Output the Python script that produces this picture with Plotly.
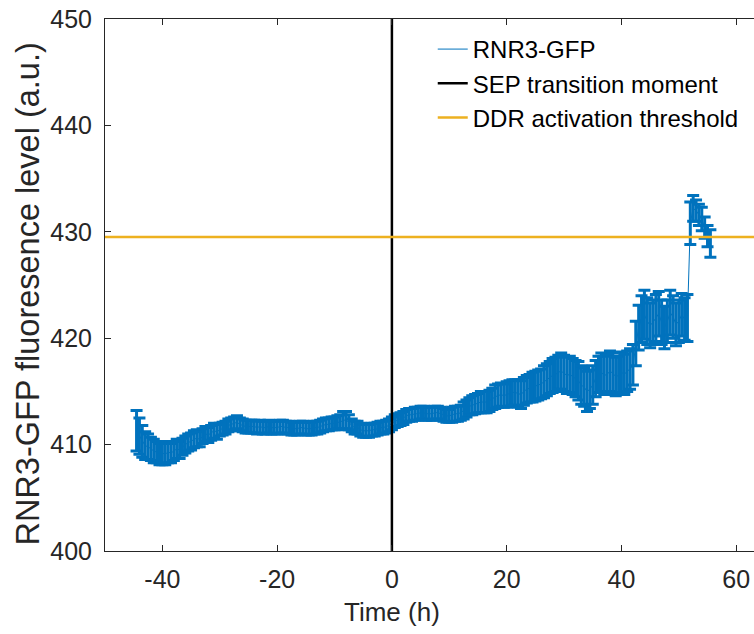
import plotly.graph_objects as go

# ---------------- data ----------------
time_h = [
    -44.5, -44.0, -43.5, -43.0, -42.5, -42.0, -41.5, -41.0, -40.5, -40.0,
    -39.5, -39.0, -38.5, -38.0, -37.5, -37.0, -36.5, -36.0, -35.5, -35.0,
    -34.5, -34.0, -33.5, -33.0, -32.5, -32.0, -31.5, -31.0, -30.5, -30.0,
    -29.5, -29.0, -28.5, -28.0, -27.5, -27.0, -26.5, -26.0, -25.5, -25.0,
    -24.5, -24.0, -23.5, -23.0, -22.5, -22.0, -21.5, -21.0, -20.5, -20.0,
    -19.5, -19.0, -18.5, -18.0, -17.5, -17.0, -16.5, -16.0, -15.5, -15.0,
    -14.5, -14.0, -13.5, -13.0, -12.5, -12.0, -11.5, -11.0, -10.5, -10.0,
    -9.5, -9.0, -8.5, -8.0, -7.5, -7.0, -6.5, -6.0, -5.5, -5.0,
    -4.5, -4.0, -3.5, -3.0, -2.5, -2.0, -1.5, -1.0, -0.5, 0.0,
    0.5, 1.0, 1.5, 2.0, 2.5, 3.0, 3.5, 4.0, 4.5, 5.0,
    5.5, 6.0, 6.5, 7.0, 7.5, 8.0, 8.5, 9.0, 9.5, 10.0,
    10.5, 11.0, 11.5, 12.0, 12.5, 13.0, 13.5, 14.0, 14.5, 15.0,
    15.5, 16.0, 16.5, 17.0, 17.5, 18.0, 18.5, 19.0, 19.5, 20.0,
    20.5, 21.0, 21.5, 22.0, 22.5, 23.0, 23.5, 24.0, 24.5, 25.0,
    25.5, 26.0, 26.5, 27.0, 27.5, 28.0, 28.5, 29.0, 29.5, 30.0,
    30.5, 31.0, 31.5, 32.0, 32.5, 33.0, 33.5, 34.0, 34.5, 35.0,
    35.5, 36.0, 36.5, 37.0, 37.5, 38.0, 38.5, 39.0, 39.5, 40.0,
    40.5, 41.0, 41.5, 42.0,
    42.5, 43.0, 43.5, 44.0, 44.5, 45.0, 45.5, 46.0, 46.5, 47.0,
    47.5, 48.0, 48.5, 49.0, 49.5, 50.0, 50.5, 51.0, 51.5,
    52.0, 52.5, 53.0, 53.5, 54.0, 54.5, 55.0, 55.5,
]

rnr3_mean = [
    411.3, 410.8, 410.3, 409.9, 409.8, 409.6, 409.4, 409.3, 409.1, 409.2,
    409.1, 409.3, 409.2, 409.4, 409.6, 409.5, 409.8, 410.0, 410.2, 410.3,
    410.5, 410.6, 410.5, 410.8, 411.0, 410.9, 411.1, 411.3, 411.2, 411.4,
    411.5, 411.6, 411.8, 411.9, 412.0, 412.1, 411.9, 411.8, 411.7, 411.7,
    411.7, 411.7, 411.6, 411.7, 411.6, 411.6, 411.7, 411.6, 411.6, 411.6,
    411.7, 411.7, 411.6, 411.6, 411.5, 411.5, 411.5, 411.6, 411.6, 411.5,
    411.5, 411.5, 411.6, 411.6, 411.7, 411.8, 411.9, 411.9, 412.0, 412.0,
    412.1, 412.1, 412.3, 412.3, 412.1, 411.8, 411.6, 411.6, 411.4, 411.3,
    411.3, 411.3, 411.4, 411.4, 411.5, 411.6, 411.6, 411.7, 411.8, 412.0,
    412.2, 412.3, 412.4, 412.5, 412.7, 412.8, 412.8, 412.9, 412.9, 413.0,
    413.0, 412.9, 412.9, 412.9, 413.0, 413.0, 412.9, 412.8, 412.7, 412.7,
    412.8, 412.9, 412.9, 413.0, 413.2, 413.4, 413.6, 413.7, 413.8, 413.9,
    414.0, 414.0, 414.0, 414.1, 414.3, 414.5, 414.6, 414.7, 414.6, 414.7,
    414.8, 414.9, 414.9, 414.8, 414.7, 415.0, 415.2, 415.3, 415.4, 415.5,
    415.6, 415.7, 415.9, 416.1, 416.3, 416.5, 416.6, 416.8, 416.9, 416.7,
    416.5, 416.6, 416.4, 416.2, 416.0, 415.6, 415.4, 415.0, 415.2, 415.6,
    416.2, 416.6, 416.8, 416.5, 416.6, 416.9, 416.7, 416.4, 416.5, 416.8,
    416.6, 416.9, 417.1, 417.5,
    419.5, 421.0, 421.8, 422.2, 421.6, 421.2, 421.5, 421.9, 422.3, 421.5,
    421.0, 421.6, 422.4, 422.0, 421.3, 421.6, 422.2, 421.8, 421.9,
    430.8, 432.2, 432.0, 431.6, 431.2, 430.4, 429.6, 428.9,
]

rnr3_err = [
    1.9, 1.7, 1.5, 1.3, 1.2, 1.1, 1.1, 1.0, 1.0, 1.1,
    1.0, 1.0, 0.9, 0.9, 0.9, 0.8, 0.8, 0.8, 0.8, 0.8,
    0.8, 0.8, 0.7, 0.7, 0.7, 0.7, 0.7, 0.7, 0.7, 0.6,
    0.6, 0.6, 0.6, 0.6, 0.6, 0.6, 0.6, 0.6, 0.6, 0.6,
    0.6, 0.6, 0.6, 0.6, 0.6, 0.6, 0.6, 0.6, 0.6, 0.6,
    0.6, 0.6, 0.6, 0.6, 0.6, 0.6, 0.6, 0.6, 0.6, 0.6,
    0.6, 0.6, 0.6, 0.6, 0.6, 0.6, 0.6, 0.6, 0.6, 0.6,
    0.6, 0.7, 0.8, 0.8, 0.7, 0.6, 0.6, 0.6, 0.6, 0.6,
    0.6, 0.6, 0.6, 0.6, 0.6, 0.6, 0.6, 0.6, 0.6, 0.6,
    0.6, 0.6, 0.6, 0.6, 0.6, 0.6, 0.6, 0.6, 0.6, 0.6,
    0.6, 0.6, 0.6, 0.6, 0.6, 0.6, 0.6, 0.6, 0.6, 0.6,
    0.7, 0.7, 0.7, 0.7, 0.8, 0.8, 0.8, 0.9, 0.9, 0.9,
    1.0, 1.0, 1.0, 1.0, 1.0, 1.1, 1.1, 1.1, 1.1, 1.2,
    1.2, 1.2, 1.2, 1.3, 1.3, 1.3, 1.3, 1.3, 1.4, 1.4,
    1.4, 1.4, 1.5, 1.5, 1.5, 1.6, 1.6, 1.6, 1.7, 1.7,
    1.7, 1.7, 1.7, 1.7, 1.8, 1.8, 1.8, 1.9, 1.8, 1.8,
    1.7, 1.7, 1.8, 1.8, 1.8, 1.9, 1.9, 1.8, 1.8, 1.9,
    1.9, 1.9, 1.9, 1.9,
    2.1, 2.1, 2.2, 2.3, 2.2, 2.1, 2.1, 2.2, 2.1, 2.1,
    2.0, 2.0, 2.1, 2.0, 2.0, 2.0, 2.0, 2.0, 2.2,
    2.0, 1.2, 1.0, 1.0, 1.1, 1.0, 1.0, 1.3,
]

sep_transition_time = 0.0          # h
ddr_threshold = 429.5              # a.u.

x_ticks = [-40, -20, 0, 20, 40, 60]
y_ticks = [400, 410, 420, 430, 440, 450]
x_range = [-50, 63.1]
y_range = [400, 450]

x_title = "Time (h)"
y_title = "RNR3-GFP fluoresence level (a.u.)"

# ---------------- styling ----------------
BLUE = "#0072BD"
ORANGE = "#EDB120"
AXIS = "#262626"
FONT = "Liberation Sans, Arial, Helvetica, sans-serif"

fig = go.Figure()

fig.add_trace(go.Scatter(
    x=time_h, y=rnr3_mean, mode="lines", name="RNR3-GFP",
    line=dict(color=BLUE, width=1),
    error_y=dict(type="data", array=rnr3_err, visible=True,
                 color=BLUE, thickness=3, width=6),
))

fig.add_trace(go.Scatter(
    x=[sep_transition_time, sep_transition_time], y=y_range,
    mode="lines", name="SEP transition moment",
    line=dict(color="black", width=2.5),
))

fig.add_trace(go.Scatter(
    x=[x_range[0], 70], y=[ddr_threshold, ddr_threshold],
    mode="lines", name="DDR activation threshold",
    line=dict(color=ORANGE, width=2.5),
))

fig.update_layout(
    width=754, height=634,
    margin=dict(l=105, r=0, t=19, b=83),
    paper_bgcolor="white", plot_bgcolor="white",
    font=dict(family=FONT, color=AXIS, size=25),
    showlegend=True,
    legend=dict(
        x=0.505, y=0.985, xanchor="left", yanchor="top",
        bgcolor="rgba(255,255,255,1)", borderwidth=0,
        font=dict(family=FONT, size=24, color="black"),
    ),
    annotations=[
        dict(text=x_title, xref="x", x=0, yref="paper", y=0,
             xanchor="center", yanchor="middle", yshift=-61, showarrow=False,
             font=dict(size=26, color=AXIS, family=FONT)),
        dict(text=y_title, xref="paper", x=0, yref="y", y=424.1,
             xanchor="center", yanchor="middle", xshift=-77, textangle=-90,
             showarrow=False, font=dict(size=32.5, color=AXIS, family=FONT)),
    ],
)

fig.update_xaxes(
    range=x_range, tickvals=x_ticks, ticktext=[str(v) for v in x_ticks],
    showline=True, linecolor=AXIS, linewidth=1, mirror="ticks",
    ticks="inside", ticklen=6, tickcolor=AXIS, showgrid=False, zeroline=False,
    tickfont=dict(size=25, color=AXIS, family=FONT), ticklabelstandoff=6,
    ticklabeloverflow="allow", automargin=False,
)
fig.update_yaxes(
    range=y_range, tickvals=y_ticks, ticktext=[str(v) for v in y_ticks],
    showline=True, linecolor=AXIS, linewidth=1, mirror=False,
    ticks="inside", ticklen=6, tickcolor=AXIS, showgrid=False, zeroline=False,
    tickfont=dict(size=25, color=AXIS, family=FONT), ticklabelstandoff=7,
    ticklabeloverflow="allow", automargin=False,
)

# remove the browser's default 8px body margin so the figure fills the window
fig.write_html("out.html",
               config={"displayModeBar": False},
               post_script="document.body.style.margin='0';"
                           "document.body.style.overflow='hidden';")
